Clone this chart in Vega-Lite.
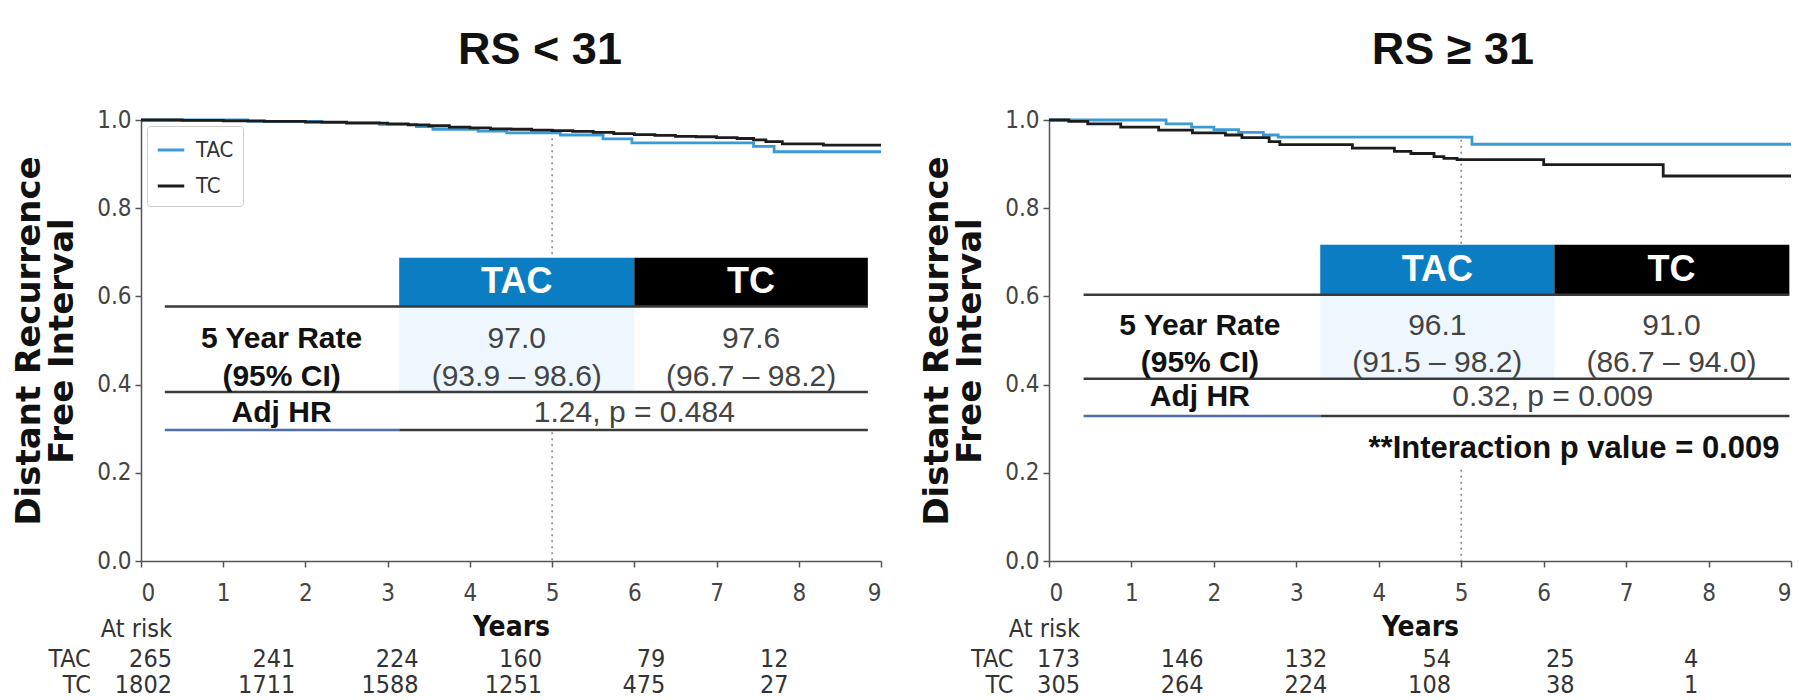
{
  "$schema": "https://vega.github.io/schema/vega-lite/v6.json",
  "background": "white",
  "padding": {"left": 12, "top": 28, "right": 0, "bottom": 0},
  "spacing": 33,
  "resolve": {"scale": {"color": "independent"}, "legend": {"color": "independent"}},
  "config": {
    "view": {"stroke": null},
    "axis": {"grid": false, "labelFont": "DejaVu Sans Condensed", "labelFontSize": 24, "labelColor": "#444", "tickColor": "#555", "domainColor": "#555", "domainWidth": 1.5, "tickWidth": 1.5, "tickSize": 6},
    "title": {"font": "Liberation Sans", "fontWeight": "bold", "fontSize": 45, "color": "#111", "anchor": "middle", "offset": 35},
    "legend": {"orient": "top-left", "offset": 6, "fillColor": "white", "strokeColor": "#cccccc", "padding": 9, "cornerRadius": 3, "symbolType": "stroke", "symbolSize": 700, "symbolStrokeWidth": 3, "labelFont": "DejaVu Sans Condensed", "labelFontSize": 22, "labelColor": "#333", "labelOffset": 10, "rowPadding": 10, "title": null}
  },
  "datasets": {
    "km": [
      {"panel": "lo", "arm": "TAC", "year": 0, "surv": 1.0},
      {"panel": "lo", "arm": "TAC", "year": 1.3, "surv": 0.997},
      {"panel": "lo", "arm": "TAC", "year": 2.2, "surv": 0.994},
      {"panel": "lo", "arm": "TAC", "year": 2.9, "surv": 0.99},
      {"panel": "lo", "arm": "TAC", "year": 3.35, "surv": 0.985},
      {"panel": "lo", "arm": "TAC", "year": 3.55, "surv": 0.979},
      {"panel": "lo", "arm": "TAC", "year": 4.1, "surv": 0.975},
      {"panel": "lo", "arm": "TAC", "year": 4.45, "surv": 0.971},
      {"panel": "lo", "arm": "TAC", "year": 5.1, "surv": 0.966},
      {"panel": "lo", "arm": "TAC", "year": 5.62, "surv": 0.957},
      {"panel": "lo", "arm": "TAC", "year": 5.97, "surv": 0.948},
      {"panel": "lo", "arm": "TAC", "year": 7.45, "surv": 0.94},
      {"panel": "lo", "arm": "TAC", "year": 7.7, "surv": 0.928},
      {"panel": "lo", "arm": "TAC", "year": 9.0, "surv": 0.928},
      {"panel": "lo", "arm": "TC", "year": 0, "surv": 1.0},
      {"panel": "lo", "arm": "TC", "year": 0.5, "surv": 0.999},
      {"panel": "lo", "arm": "TC", "year": 1.0, "surv": 0.998},
      {"panel": "lo", "arm": "TC", "year": 1.5, "surv": 0.997},
      {"panel": "lo", "arm": "TC", "year": 2.0, "surv": 0.995},
      {"panel": "lo", "arm": "TC", "year": 2.5, "surv": 0.993},
      {"panel": "lo", "arm": "TC", "year": 3.0, "surv": 0.991},
      {"panel": "lo", "arm": "TC", "year": 3.25, "surv": 0.989},
      {"panel": "lo", "arm": "TC", "year": 3.5, "surv": 0.987},
      {"panel": "lo", "arm": "TC", "year": 3.75, "surv": 0.984},
      {"panel": "lo", "arm": "TC", "year": 4.0, "surv": 0.982},
      {"panel": "lo", "arm": "TC", "year": 4.25, "surv": 0.98},
      {"panel": "lo", "arm": "TC", "year": 4.5, "surv": 0.979},
      {"panel": "lo", "arm": "TC", "year": 4.75, "surv": 0.977},
      {"panel": "lo", "arm": "TC", "year": 5.0, "surv": 0.976},
      {"panel": "lo", "arm": "TC", "year": 5.25, "surv": 0.974},
      {"panel": "lo", "arm": "TC", "year": 5.5, "surv": 0.972},
      {"panel": "lo", "arm": "TC", "year": 5.75, "surv": 0.969},
      {"panel": "lo", "arm": "TC", "year": 6.0, "surv": 0.967},
      {"panel": "lo", "arm": "TC", "year": 6.25, "surv": 0.965},
      {"panel": "lo", "arm": "TC", "year": 6.5, "surv": 0.963},
      {"panel": "lo", "arm": "TC", "year": 6.75, "surv": 0.962},
      {"panel": "lo", "arm": "TC", "year": 7.0, "surv": 0.96},
      {"panel": "lo", "arm": "TC", "year": 7.25, "surv": 0.958},
      {"panel": "lo", "arm": "TC", "year": 7.45, "surv": 0.955},
      {"panel": "lo", "arm": "TC", "year": 7.6, "surv": 0.951},
      {"panel": "lo", "arm": "TC", "year": 7.8, "surv": 0.946},
      {"panel": "lo", "arm": "TC", "year": 8.3, "surv": 0.943},
      {"panel": "lo", "arm": "TC", "year": 9.0, "surv": 0.943},
      {"panel": "hi", "arm": "TAC", "year": 0, "surv": 1.0},
      {"panel": "hi", "arm": "TAC", "year": 1.42, "surv": 0.991},
      {"panel": "hi", "arm": "TAC", "year": 1.73, "surv": 0.984},
      {"panel": "hi", "arm": "TAC", "year": 2.0, "surv": 0.978},
      {"panel": "hi", "arm": "TAC", "year": 2.3, "surv": 0.972},
      {"panel": "hi", "arm": "TAC", "year": 2.6, "surv": 0.966},
      {"panel": "hi", "arm": "TAC", "year": 2.78, "surv": 0.961},
      {"panel": "hi", "arm": "TAC", "year": 5.13, "surv": 0.945},
      {"panel": "hi", "arm": "TAC", "year": 9.0, "surv": 0.945},
      {"panel": "hi", "arm": "TC", "year": 0, "surv": 1.0},
      {"panel": "hi", "arm": "TC", "year": 0.24, "surv": 0.997},
      {"panel": "hi", "arm": "TC", "year": 0.47, "surv": 0.991},
      {"panel": "hi", "arm": "TC", "year": 0.87, "surv": 0.984},
      {"panel": "hi", "arm": "TC", "year": 1.33, "surv": 0.977},
      {"panel": "hi", "arm": "TC", "year": 1.74, "surv": 0.971},
      {"panel": "hi", "arm": "TC", "year": 2.14, "surv": 0.966},
      {"panel": "hi", "arm": "TC", "year": 2.34, "surv": 0.96},
      {"panel": "hi", "arm": "TC", "year": 2.67, "surv": 0.951},
      {"panel": "hi", "arm": "TC", "year": 2.8, "surv": 0.944},
      {"panel": "hi", "arm": "TC", "year": 3.68, "surv": 0.936},
      {"panel": "hi", "arm": "TC", "year": 4.19, "surv": 0.929},
      {"panel": "hi", "arm": "TC", "year": 4.39, "surv": 0.924},
      {"panel": "hi", "arm": "TC", "year": 4.67, "surv": 0.917},
      {"panel": "hi", "arm": "TC", "year": 4.79, "surv": 0.913},
      {"panel": "hi", "arm": "TC", "year": 4.95, "surv": 0.91},
      {"panel": "hi", "arm": "TC", "year": 6.0, "surv": 0.899},
      {"panel": "hi", "arm": "TC", "year": 7.45, "surv": 0.873},
      {"panel": "hi", "arm": "TC", "year": 9.0, "surv": 0.873}
    ],
    "risk": [
      {"panel": "lo", "arm": "TAC", "year": 0, "n": 265},
      {"panel": "lo", "arm": "TAC", "year": 1.5, "n": 241},
      {"panel": "lo", "arm": "TAC", "year": 3, "n": 224},
      {"panel": "lo", "arm": "TAC", "year": 4.5, "n": 160},
      {"panel": "lo", "arm": "TAC", "year": 6, "n": 79},
      {"panel": "lo", "arm": "TAC", "year": 7.5, "n": 12},
      {"panel": "lo", "arm": "TC", "year": 0, "n": 1802},
      {"panel": "lo", "arm": "TC", "year": 1.5, "n": 1711},
      {"panel": "lo", "arm": "TC", "year": 3, "n": 1588},
      {"panel": "lo", "arm": "TC", "year": 4.5, "n": 1251},
      {"panel": "lo", "arm": "TC", "year": 6, "n": 475},
      {"panel": "lo", "arm": "TC", "year": 7.5, "n": 27},
      {"panel": "hi", "arm": "TAC", "year": 0, "n": 173},
      {"panel": "hi", "arm": "TAC", "year": 1.5, "n": 146},
      {"panel": "hi", "arm": "TAC", "year": 3, "n": 132},
      {"panel": "hi", "arm": "TAC", "year": 4.5, "n": 54},
      {"panel": "hi", "arm": "TAC", "year": 6, "n": 25},
      {"panel": "hi", "arm": "TAC", "year": 7.5, "n": 4},
      {"panel": "hi", "arm": "TC", "year": 0, "n": 305},
      {"panel": "hi", "arm": "TC", "year": 1.5, "n": 264},
      {"panel": "hi", "arm": "TC", "year": 3, "n": 224},
      {"panel": "hi", "arm": "TC", "year": 4.5, "n": 108},
      {"panel": "hi", "arm": "TC", "year": 6, "n": 38},
      {"panel": "hi", "arm": "TC", "year": 7.5, "n": 1}
    ],
    "ref": [
      {"panel": "lo", "year": 5, "surv": 0.972},
      {"panel": "hi", "year": 5, "surv": 0.955}
    ],
    "tbox": [
      {"panel": "lo", "kind": "bg", "x0": 0.29, "x1": 8.84, "y0": 0.297, "y1": 0.577},
      {"panel": "lo", "kind": "shade", "x0": 3.14, "x1": 6.0, "y0": 0.383, "y1": 0.577},
      {"panel": "lo", "kind": "hTAC", "x0": 3.14, "x1": 6.0, "y0": 0.577, "y1": 0.6875},
      {"panel": "lo", "kind": "hTC", "x0": 6.0, "x1": 8.84, "y0": 0.577, "y1": 0.6875},
      {"panel": "hi", "kind": "bg", "x0": 0.42, "x1": 8.98, "y0": 0.21, "y1": 0.604},
      {"panel": "hi", "kind": "shade", "x0": 3.29, "x1": 6.13, "y0": 0.413, "y1": 0.604},
      {"panel": "hi", "kind": "hTAC", "x0": 3.29, "x1": 6.13, "y0": 0.604, "y1": 0.717},
      {"panel": "hi", "kind": "hTC", "x0": 6.13, "x1": 8.98, "y0": 0.604, "y1": 0.717}
    ],
    "trule": [
      {"panel": "lo", "tone": "dark", "x0": 0.29, "x1": 8.84, "y": 0.577},
      {"panel": "lo", "tone": "dark", "x0": 0.29, "x1": 8.84, "y": 0.383},
      {"panel": "lo", "tone": "dark", "x0": 3.14, "x1": 8.84, "y": 0.297},
      {"panel": "lo", "tone": "blue", "x0": 0.29, "x1": 3.14, "y": 0.297},
      {"panel": "hi", "tone": "dark", "x0": 0.42, "x1": 8.98, "y": 0.604},
      {"panel": "hi", "tone": "dark", "x0": 0.42, "x1": 8.98, "y": 0.413},
      {"panel": "hi", "tone": "dark", "x0": 3.29, "x1": 8.98, "y": 0.329},
      {"panel": "hi", "tone": "blue", "x0": 0.42, "x1": 3.29, "y": 0.329}
    ],
    "ttext": [
      {"panel": "lo", "kind": "head", "x": 4.57, "y": 0.632, "text": "TAC"},
      {"panel": "lo", "kind": "head", "x": 7.42, "y": 0.632, "text": "TC"},
      {"panel": "lo", "kind": "label", "x": 1.71, "y": 0.504, "text": "5 Year Rate"},
      {"panel": "lo", "kind": "label", "x": 1.71, "y": 0.418, "text": "(95% CI)"},
      {"panel": "lo", "kind": "label", "x": 1.71, "y": 0.336, "text": "Adj HR"},
      {"panel": "lo", "kind": "value", "x": 4.57, "y": 0.504, "text": "97.0"},
      {"panel": "lo", "kind": "value", "x": 4.57, "y": 0.418, "text": "(93.9 – 98.6)"},
      {"panel": "lo", "kind": "value", "x": 7.42, "y": 0.504, "text": "97.6"},
      {"panel": "lo", "kind": "value", "x": 7.42, "y": 0.418, "text": "(96.7 – 98.2)"},
      {"panel": "lo", "kind": "value", "x": 6.0, "y": 0.336, "text": "1.24, p = 0.484"},
      {"panel": "hi", "kind": "head", "x": 4.71, "y": 0.66, "text": "TAC"},
      {"panel": "hi", "kind": "head", "x": 7.55, "y": 0.66, "text": "TC"},
      {"panel": "hi", "kind": "label", "x": 1.83, "y": 0.534, "text": "5 Year Rate"},
      {"panel": "hi", "kind": "label", "x": 1.83, "y": 0.448, "text": "(95% CI)"},
      {"panel": "hi", "kind": "label", "x": 1.83, "y": 0.371, "text": "Adj HR"},
      {"panel": "hi", "kind": "value", "x": 4.71, "y": 0.534, "text": "96.1"},
      {"panel": "hi", "kind": "value", "x": 4.71, "y": 0.448, "text": "(91.5 – 98.2)"},
      {"panel": "hi", "kind": "value", "x": 7.55, "y": 0.534, "text": "91.0"},
      {"panel": "hi", "kind": "value", "x": 7.55, "y": 0.448, "text": "(86.7 – 94.0)"},
      {"panel": "hi", "kind": "value", "x": 6.11, "y": 0.371, "text": "0.32, p = 0.009"},
      {"panel": "hi", "kind": "note", "x": 8.86, "y": 0.254, "text": "**Interaction p value = 0.009"}
    ]
  },
  "hconcat": [
    {
      "width": 740, "height": 441,
      "title": {"text": "RS < 31", "dx": 29},
      "layer": [
        {"data": {"name": "ref"}, "transform": [{"filter": "datum.panel === 'lo'"}],
         "mark": {"type": "rule", "strokeDash": [2, 4], "color": "#888", "strokeWidth": 1.6},
         "encoding": {"x": {"field": "year", "type": "quantitative", "scale": {"domain": [0, 9], "nice": false}},
                      "y": {"field": "surv", "type": "quantitative", "scale": {"domain": [0, 1], "nice": false}},
                      "y2": {"datum": 0}}},
        {"data": {"name": "tbox"}, "transform": [{"filter": "datum.panel === 'lo' && datum.kind === 'bg'"}],
         "mark": {"type": "rect", "color": "white"},
         "encoding": {"x": {"field": "x0", "type": "quantitative", "scale": {"domain": [0, 9], "nice": false}}, "x2": {"field": "x1"},
                      "y": {"field": "y0", "type": "quantitative", "scale": {"domain": [0, 1], "nice": false}}, "y2": {"field": "y1"}}},
        {"data": {"name": "tbox"}, "transform": [{"filter": "datum.panel === 'lo' && datum.kind === 'shade'"}],
         "mark": {"type": "rect", "color": "#eef7fd"},
         "encoding": {"x": {"field": "x0", "type": "quantitative", "scale": {"domain": [0, 9], "nice": false}}, "x2": {"field": "x1"},
                      "y": {"field": "y0", "type": "quantitative", "scale": {"domain": [0, 1], "nice": false}}, "y2": {"field": "y1"}}},
        {"data": {"name": "tbox"}, "transform": [{"filter": "datum.panel === 'lo' && datum.kind === 'hTAC'"}],
         "mark": {"type": "rect", "color": "#0b7dc2"},
         "encoding": {"x": {"field": "x0", "type": "quantitative", "scale": {"domain": [0, 9], "nice": false}}, "x2": {"field": "x1"},
                      "y": {"field": "y0", "type": "quantitative", "scale": {"domain": [0, 1], "nice": false}}, "y2": {"field": "y1"}}},
        {"data": {"name": "tbox"}, "transform": [{"filter": "datum.panel === 'lo' && datum.kind === 'hTC'"}],
         "mark": {"type": "rect", "color": "#000000"},
         "encoding": {"x": {"field": "x0", "type": "quantitative", "scale": {"domain": [0, 9], "nice": false}}, "x2": {"field": "x1"},
                      "y": {"field": "y0", "type": "quantitative", "scale": {"domain": [0, 1], "nice": false}}, "y2": {"field": "y1"}}},
        {"data": {"name": "trule"}, "transform": [{"filter": "datum.panel === 'lo' && datum.tone === 'dark'"}],
         "mark": {"type": "rule", "color": "#3a3a3a", "strokeWidth": 2.5},
         "encoding": {"x": {"field": "x0", "type": "quantitative", "scale": {"domain": [0, 9], "nice": false}}, "x2": {"field": "x1"},
                      "y": {"field": "y", "type": "quantitative", "scale": {"domain": [0, 1], "nice": false}}}},
        {"data": {"name": "trule"}, "transform": [{"filter": "datum.panel === 'lo' && datum.tone === 'blue'"}],
         "mark": {"type": "rule", "color": "#4d6ea8", "strokeWidth": 2.5},
         "encoding": {"x": {"field": "x0", "type": "quantitative", "scale": {"domain": [0, 9], "nice": false}}, "x2": {"field": "x1"},
                      "y": {"field": "y", "type": "quantitative", "scale": {"domain": [0, 1], "nice": false}}}},
        {"data": {"name": "ttext"}, "transform": [{"filter": "datum.panel === 'lo' && datum.kind === 'head'"}],
         "mark": {"type": "text", "font": "Liberation Sans", "fontWeight": "bold", "fontSize": 36, "color": "white", "baseline": "middle"},
         "encoding": {"x": {"field": "x", "type": "quantitative", "scale": {"domain": [0, 9], "nice": false}},
                      "y": {"field": "y", "type": "quantitative", "scale": {"domain": [0, 1], "nice": false}}, "text": {"field": "text"}}},
        {"data": {"name": "ttext"}, "transform": [{"filter": "datum.panel === 'lo' && datum.kind === 'label'"}],
         "mark": {"type": "text", "font": "Liberation Sans", "fontWeight": "bold", "fontSize": 30, "color": "#111", "baseline": "middle"},
         "encoding": {"x": {"field": "x", "type": "quantitative", "scale": {"domain": [0, 9], "nice": false}},
                      "y": {"field": "y", "type": "quantitative", "scale": {"domain": [0, 1], "nice": false}}, "text": {"field": "text"}}},
        {"data": {"name": "ttext"}, "transform": [{"filter": "datum.panel === 'lo' && datum.kind === 'value'"}],
         "mark": {"type": "text", "font": "Liberation Sans", "fontSize": 30, "color": "#444", "baseline": "middle"},
         "encoding": {"x": {"field": "x", "type": "quantitative", "scale": {"domain": [0, 9], "nice": false}},
                      "y": {"field": "y", "type": "quantitative", "scale": {"domain": [0, 1], "nice": false}}, "text": {"field": "text"}}},
        {"data": {"name": "km"}, "transform": [{"filter": "datum.panel === 'lo'"}],
         "mark": {"type": "line", "interpolate": "step-after", "strokeWidth": 2.8},
         "encoding": {"x": {"field": "year", "type": "quantitative", "scale": {"domain": [0, 9], "nice": false},
                            "axis": {"title": "Years", "values": [0, 1, 2, 3, 4, 5, 6, 7, 8, 9], "format": "d", "labelPadding": 14, "titleFont": "DejaVu Sans Condensed", "titleFontWeight": "bold", "titleFontSize": 28, "titleColor": "#111", "titlePadding": 8}},
                      "y": {"field": "surv", "type": "quantitative", "scale": {"domain": [0, 1], "nice": false},
                            "axis": {"title": ["Distant Recurrence", "Free Interval"], "values": [0, 0.2, 0.4, 0.6, 0.8, 1.0], "format": ".1f", "labelPadding": 4, "titleFont": "DejaVu Sans", "titleFontWeight": "bold", "titleFontSize": 34, "titleColor": "#111", "titlePadding": 17, "titleLineHeight": 33}},
                      "color": {"field": "arm", "type": "nominal", "scale": {"domain": ["TAC", "TC"], "range": ["#3a9ad6", "#1c1c1c"]}},
                      "order": {"field": "year", "type": "quantitative"}}},
        {"data": {"name": "risk"}, "transform": [{"filter": "datum.panel === 'lo' && datum.arm === 'TAC' && datum.year === 0"}],
         "mark": {"type": "text", "text": "At risk", "font": "DejaVu Sans Condensed", "fontSize": 25, "color": "#333", "align": "right", "baseline": "middle", "dx": 31},
         "encoding": {"x": {"field": "year", "type": "quantitative", "scale": {"domain": [0, 9], "nice": false}},
                      "y": {"datum": -0.155, "type": "quantitative", "scale": {"domain": [0, 1], "nice": false}}}},
        {"data": {"name": "risk"}, "transform": [{"filter": "datum.panel === 'lo' && datum.arm === 'TAC'"}],
         "mark": {"type": "text", "font": "DejaVu Sans Condensed", "fontSize": 25, "color": "#333", "align": "right", "baseline": "middle", "dx": 31},
         "encoding": {"x": {"field": "year", "type": "quantitative", "scale": {"domain": [0, 9], "nice": false}},
                      "y": {"datum": -0.223, "type": "quantitative", "scale": {"domain": [0, 1], "nice": false}}, "text": {"field": "n"}}},
        {"data": {"name": "risk"}, "transform": [{"filter": "datum.panel === 'lo' && datum.arm === 'TC'"}],
         "mark": {"type": "text", "font": "DejaVu Sans Condensed", "fontSize": 25, "color": "#333", "align": "right", "baseline": "middle", "dx": 31},
         "encoding": {"x": {"field": "year", "type": "quantitative", "scale": {"domain": [0, 9], "nice": false}},
                      "y": {"datum": -0.282, "type": "quantitative", "scale": {"domain": [0, 1], "nice": false}}, "text": {"field": "n"}}},
        {"data": {"name": "risk"}, "transform": [{"filter": "datum.panel === 'lo' && datum.arm === 'TAC' && datum.year === 0"}],
         "mark": {"type": "text", "font": "DejaVu Sans Condensed", "fontSize": 25, "color": "#333", "align": "right", "baseline": "middle"},
         "encoding": {"x": {"datum": -0.61, "type": "quantitative", "scale": {"domain": [0, 9], "nice": false}},
                      "y": {"datum": -0.223, "type": "quantitative", "scale": {"domain": [0, 1], "nice": false}}, "text": {"field": "arm"}}},
        {"data": {"name": "risk"}, "transform": [{"filter": "datum.panel === 'lo' && datum.arm === 'TC' && datum.year === 0"}],
         "mark": {"type": "text", "font": "DejaVu Sans Condensed", "fontSize": 25, "color": "#333", "align": "right", "baseline": "middle"},
         "encoding": {"x": {"datum": -0.61, "type": "quantitative", "scale": {"domain": [0, 9], "nice": false}},
                      "y": {"datum": -0.282, "type": "quantitative", "scale": {"domain": [0, 1], "nice": false}}, "text": {"field": "arm"}}}
      ]
    },
    {
      "width": 742, "height": 441,
      "title": {"text": "RS ≥ 31", "dx": 33},
      "layer": [
        {"data": {"name": "ref"}, "transform": [{"filter": "datum.panel === 'hi'"}],
         "mark": {"type": "rule", "strokeDash": [2, 4], "color": "#888", "strokeWidth": 1.6},
         "encoding": {"x": {"field": "year", "type": "quantitative", "scale": {"domain": [0, 9], "nice": false}},
                      "y": {"field": "surv", "type": "quantitative", "scale": {"domain": [0, 1], "nice": false}},
                      "y2": {"datum": 0}}},
        {"data": {"name": "tbox"}, "transform": [{"filter": "datum.panel === 'hi' && datum.kind === 'bg'"}],
         "mark": {"type": "rect", "color": "white"},
         "encoding": {"x": {"field": "x0", "type": "quantitative", "scale": {"domain": [0, 9], "nice": false}}, "x2": {"field": "x1"},
                      "y": {"field": "y0", "type": "quantitative", "scale": {"domain": [0, 1], "nice": false}}, "y2": {"field": "y1"}}},
        {"data": {"name": "tbox"}, "transform": [{"filter": "datum.panel === 'hi' && datum.kind === 'shade'"}],
         "mark": {"type": "rect", "color": "#eef7fd"},
         "encoding": {"x": {"field": "x0", "type": "quantitative", "scale": {"domain": [0, 9], "nice": false}}, "x2": {"field": "x1"},
                      "y": {"field": "y0", "type": "quantitative", "scale": {"domain": [0, 1], "nice": false}}, "y2": {"field": "y1"}}},
        {"data": {"name": "tbox"}, "transform": [{"filter": "datum.panel === 'hi' && datum.kind === 'hTAC'"}],
         "mark": {"type": "rect", "color": "#0b7dc2"},
         "encoding": {"x": {"field": "x0", "type": "quantitative", "scale": {"domain": [0, 9], "nice": false}}, "x2": {"field": "x1"},
                      "y": {"field": "y0", "type": "quantitative", "scale": {"domain": [0, 1], "nice": false}}, "y2": {"field": "y1"}}},
        {"data": {"name": "tbox"}, "transform": [{"filter": "datum.panel === 'hi' && datum.kind === 'hTC'"}],
         "mark": {"type": "rect", "color": "#000000"},
         "encoding": {"x": {"field": "x0", "type": "quantitative", "scale": {"domain": [0, 9], "nice": false}}, "x2": {"field": "x1"},
                      "y": {"field": "y0", "type": "quantitative", "scale": {"domain": [0, 1], "nice": false}}, "y2": {"field": "y1"}}},
        {"data": {"name": "trule"}, "transform": [{"filter": "datum.panel === 'hi' && datum.tone === 'dark'"}],
         "mark": {"type": "rule", "color": "#3a3a3a", "strokeWidth": 2.5},
         "encoding": {"x": {"field": "x0", "type": "quantitative", "scale": {"domain": [0, 9], "nice": false}}, "x2": {"field": "x1"},
                      "y": {"field": "y", "type": "quantitative", "scale": {"domain": [0, 1], "nice": false}}}},
        {"data": {"name": "trule"}, "transform": [{"filter": "datum.panel === 'hi' && datum.tone === 'blue'"}],
         "mark": {"type": "rule", "color": "#4d6ea8", "strokeWidth": 2.5},
         "encoding": {"x": {"field": "x0", "type": "quantitative", "scale": {"domain": [0, 9], "nice": false}}, "x2": {"field": "x1"},
                      "y": {"field": "y", "type": "quantitative", "scale": {"domain": [0, 1], "nice": false}}}},
        {"data": {"name": "ttext"}, "transform": [{"filter": "datum.panel === 'hi' && datum.kind === 'head'"}],
         "mark": {"type": "text", "font": "Liberation Sans", "fontWeight": "bold", "fontSize": 36, "color": "white", "baseline": "middle"},
         "encoding": {"x": {"field": "x", "type": "quantitative", "scale": {"domain": [0, 9], "nice": false}},
                      "y": {"field": "y", "type": "quantitative", "scale": {"domain": [0, 1], "nice": false}}, "text": {"field": "text"}}},
        {"data": {"name": "ttext"}, "transform": [{"filter": "datum.panel === 'hi' && datum.kind === 'label'"}],
         "mark": {"type": "text", "font": "Liberation Sans", "fontWeight": "bold", "fontSize": 30, "color": "#111", "baseline": "middle"},
         "encoding": {"x": {"field": "x", "type": "quantitative", "scale": {"domain": [0, 9], "nice": false}},
                      "y": {"field": "y", "type": "quantitative", "scale": {"domain": [0, 1], "nice": false}}, "text": {"field": "text"}}},
        {"data": {"name": "ttext"}, "transform": [{"filter": "datum.panel === 'hi' && datum.kind === 'value'"}],
         "mark": {"type": "text", "font": "Liberation Sans", "fontSize": 30, "color": "#444", "baseline": "middle"},
         "encoding": {"x": {"field": "x", "type": "quantitative", "scale": {"domain": [0, 9], "nice": false}},
                      "y": {"field": "y", "type": "quantitative", "scale": {"domain": [0, 1], "nice": false}}, "text": {"field": "text"}}},
        {"data": {"name": "ttext"}, "transform": [{"filter": "datum.panel === 'hi' && datum.kind === 'note'"}],
         "mark": {"type": "text", "font": "Liberation Sans", "fontWeight": "bold", "fontSize": 31, "color": "#111", "baseline": "middle", "align": "right"},
         "encoding": {"x": {"field": "x", "type": "quantitative", "scale": {"domain": [0, 9], "nice": false}},
                      "y": {"field": "y", "type": "quantitative", "scale": {"domain": [0, 1], "nice": false}}, "text": {"field": "text"}}},
        {"data": {"name": "km"}, "transform": [{"filter": "datum.panel === 'hi'"}],
         "mark": {"type": "line", "interpolate": "step-after", "strokeWidth": 2.8},
         "encoding": {"x": {"field": "year", "type": "quantitative", "scale": {"domain": [0, 9], "nice": false},
                            "axis": {"title": "Years", "values": [0, 1, 2, 3, 4, 5, 6, 7, 8, 9], "format": "d", "labelPadding": 14, "titleFont": "DejaVu Sans Condensed", "titleFontWeight": "bold", "titleFontSize": 28, "titleColor": "#111", "titlePadding": 8}},
                      "y": {"field": "surv", "type": "quantitative", "scale": {"domain": [0, 1], "nice": false},
                            "axis": {"title": ["Distant Recurrence", "Free Interval"], "values": [0, 0.2, 0.4, 0.6, 0.8, 1.0], "format": ".1f", "labelPadding": 4, "titleFont": "DejaVu Sans", "titleFontWeight": "bold", "titleFontSize": 34, "titleColor": "#111", "titlePadding": 17, "titleLineHeight": 33}},
                      "color": {"field": "arm", "type": "nominal", "scale": {"domain": ["TAC", "TC"], "range": ["#3a9ad6", "#1c1c1c"]}, "legend": null},
                      "order": {"field": "year", "type": "quantitative"}}},
        {"data": {"name": "risk"}, "transform": [{"filter": "datum.panel === 'hi' && datum.arm === 'TAC' && datum.year === 0"}],
         "mark": {"type": "text", "text": "At risk", "font": "DejaVu Sans Condensed", "fontSize": 25, "color": "#333", "align": "right", "baseline": "middle", "dx": 31},
         "encoding": {"x": {"field": "year", "type": "quantitative", "scale": {"domain": [0, 9], "nice": false}},
                      "y": {"datum": -0.155, "type": "quantitative", "scale": {"domain": [0, 1], "nice": false}}}},
        {"data": {"name": "risk"}, "transform": [{"filter": "datum.panel === 'hi' && datum.arm === 'TAC'"}],
         "mark": {"type": "text", "font": "DejaVu Sans Condensed", "fontSize": 25, "color": "#333", "align": "right", "baseline": "middle", "dx": 31},
         "encoding": {"x": {"field": "year", "type": "quantitative", "scale": {"domain": [0, 9], "nice": false}},
                      "y": {"datum": -0.223, "type": "quantitative", "scale": {"domain": [0, 1], "nice": false}}, "text": {"field": "n"}}},
        {"data": {"name": "risk"}, "transform": [{"filter": "datum.panel === 'hi' && datum.arm === 'TC'"}],
         "mark": {"type": "text", "font": "DejaVu Sans Condensed", "fontSize": 25, "color": "#333", "align": "right", "baseline": "middle", "dx": 31},
         "encoding": {"x": {"field": "year", "type": "quantitative", "scale": {"domain": [0, 9], "nice": false}},
                      "y": {"datum": -0.282, "type": "quantitative", "scale": {"domain": [0, 1], "nice": false}}, "text": {"field": "n"}}},
        {"data": {"name": "risk"}, "transform": [{"filter": "datum.panel === 'hi' && datum.arm === 'TAC' && datum.year === 0"}],
         "mark": {"type": "text", "font": "DejaVu Sans Condensed", "fontSize": 25, "color": "#333", "align": "right", "baseline": "middle"},
         "encoding": {"x": {"datum": -0.43, "type": "quantitative", "scale": {"domain": [0, 9], "nice": false}},
                      "y": {"datum": -0.223, "type": "quantitative", "scale": {"domain": [0, 1], "nice": false}}, "text": {"field": "arm"}}},
        {"data": {"name": "risk"}, "transform": [{"filter": "datum.panel === 'hi' && datum.arm === 'TC' && datum.year === 0"}],
         "mark": {"type": "text", "font": "DejaVu Sans Condensed", "fontSize": 25, "color": "#333", "align": "right", "baseline": "middle"},
         "encoding": {"x": {"datum": -0.43, "type": "quantitative", "scale": {"domain": [0, 9], "nice": false}},
                      "y": {"datum": -0.282, "type": "quantitative", "scale": {"domain": [0, 1], "nice": false}}, "text": {"field": "arm"}}}
      ]
    }
  ]
}
